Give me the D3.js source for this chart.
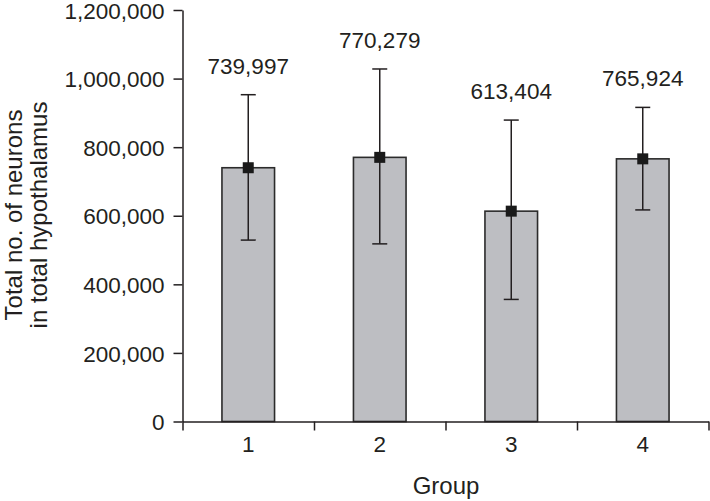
<!DOCTYPE html>
<html>
<head>
<meta charset="utf-8">
<script src="https://cdn.jsdelivr.net/npm/d3@7"></script>
<style>
  body { margin: 0; background: #fff; }
  text { font-family: "Liberation Sans", Arial, sans-serif; fill: #231f20; }
</style>
</head>
<body>
<svg id="chart" width="710" height="501"></svg>
<script>
// group means and error bar ends
var groups = ["1", "2", "3", "4"];
var means = [739997, 770279, 613404, 765924];
var upper = [953000, 1028000, 879000, 916000];
var lower = [529000, 518000, 356000, 617000];
var yTicks = [0, 200000, 400000, 600000, 800000, 1000000, 1200000];

var svg = d3.select("#chart");
var ink = "#231f20";

var y = d3.scaleLinear().domain([0, 1200000]).range([421.5, 10]);
var x = d3.scaleBand().domain(groups).range([182.5, 708.5])
    .paddingInner(0.6).paddingOuter(0.3);
// boundaries between groups, for the x tick marks
var xb = d3.scaleLinear().domain([0, groups.length]).range([182.5, 708.5]);

// bars
svg.append("g").selectAll("rect")
    .data(means)
    .enter().append("rect")
    .attr("x", function(d, i){ return x(groups[i]); })
    .attr("y", function(d){ return y(d); })
    .attr("width", x.bandwidth())
    .attr("height", function(d){ return y(0) - y(d); })
    .attr("fill", "#bdbec2")
    .attr("stroke", "#2b2b2b")
    .attr("stroke-width", 1.6);

// error bars
var eb = svg.append("g").attr("stroke", ink).attr("stroke-width", 1.5);
for (var i = 0; i < groups.length; i++){
    var cx = x(groups[i]) + x.bandwidth()/2;
    eb.append("line").attr("x1", cx).attr("x2", cx)
      .attr("y1", y(upper[i])).attr("y2", y(lower[i]));
    eb.append("line").attr("x1", cx-7.5).attr("x2", cx+7.5)
      .attr("y1", y(upper[i])).attr("y2", y(upper[i]));
    eb.append("line").attr("x1", cx-7.5).attr("x2", cx+7.5)
      .attr("y1", y(lower[i])).attr("y2", y(lower[i]));
    svg.append("rect")
      .attr("x", cx-5.5).attr("y", y(means[i])-5.5)
      .attr("width", 11).attr("height", 11)
      .attr("fill", "#1a1a1a");
    svg.append("text")
      .attr("x", cx).attr("y", y(upper[i]) - 21)
      .attr("text-anchor", "middle")
      .style("font-size", "22.5px")
      .text(d3.format(",")(means[i]));
}

// y axis
var yAxis = svg.append("g")
    .attr("transform", "translate(182.5,0)")
    .call(d3.axisLeft(y).tickValues(yTicks).tickFormat(d3.format(","))
          .tickSize(9).tickPadding(9).tickSizeOuter(0));
yAxis.selectAll("text").style("font-size", "22.5px").attr("fill", ink).attr("dy", "0.36em");
yAxis.selectAll("line, path").attr("stroke", ink).attr("stroke-width", 1.5);

// x axis: tick marks at group boundaries, labels under bars
var xAxis = svg.append("g")
    .attr("transform", "translate(0," + y(0) + ")")
    .call(d3.axisBottom(xb).tickValues(d3.range(groups.length + 1))
          .tickFormat("").tickSize(9).tickSizeOuter(0));
xAxis.selectAll("line, path").attr("stroke", ink).attr("stroke-width", 1.5);

var xLab = svg.append("g")
    .attr("transform", "translate(0," + y(0) + ")")
    .call(d3.axisBottom(x).tickSize(0).tickPadding(15));
xLab.select("path").remove();
xLab.selectAll("text").style("font-size", "22.5px").attr("fill", ink);

// axis titles
svg.append("text")
    .attr("x", 446).attr("y", 494)
    .attr("text-anchor", "middle")
    .style("font-size", "24px")
    .text("Group");

var yt = svg.append("text")
    .attr("transform", "translate(22,215) rotate(-90)")
    .attr("text-anchor", "middle")
    .style("font-size", "24px");
yt.append("tspan").attr("x", 0).attr("y", 0).text("Total no. of neurons");
yt.append("tspan").attr("x", 0).attr("y", 25).text("in total hypothalamus");
</script>
</body>
</html>
